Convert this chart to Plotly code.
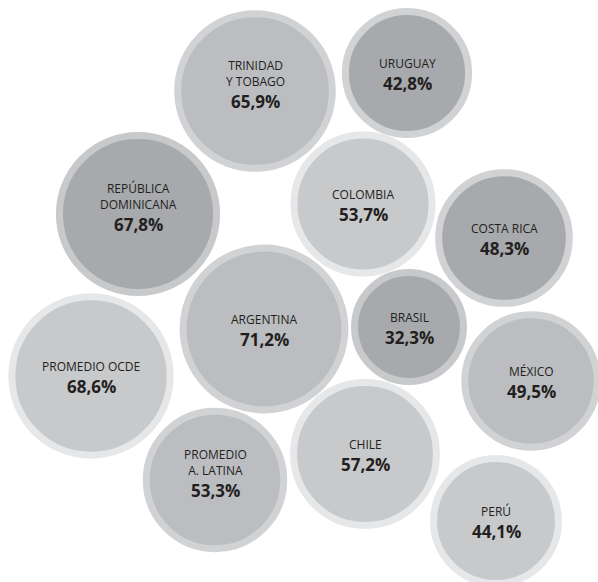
import plotly.graph_objects as go

# Share values (%) per country / average
names = ["TRINIDAD<br>Y TOBAGO", "URUGUAY", "REPÚBLICA<br>DOMINICANA", "COLOMBIA",
         "COSTA RICA", "ARGENTINA", "BRASIL", "PROMEDIO OCDE", "MÉXICO",
         "CHILE", "PROMEDIO<br>A. LATINA", "PERÚ"]
values = [65.9, 42.8, 67.8, 53.7, 48.3, 71.2, 32.3, 68.6, 49.5, 57.2, 53.3, 44.1]
value_labels = ["65,9%", "42,8%", "67,8%", "53,7%", "48,3%", "71,2%", "32,3%",
                "68,6%", "49,5%", "57,2%", "53,3%", "44,1%"]

# Packed-bubble layout (pixel-like coordinates on a 598x582 canvas)
bubble_x = [255, 407, 138, 363, 504, 264, 409, 91, 531, 365, 215, 496]
bubble_y = [91, 73, 214, 204, 238, 329, 327, 376, 381, 454, 480, 521]

# Fill / ring shades per bubble
fills = ["#bcbdc0", "#a7a9ac", "#a7a9ac", "#c8c9cb", "#a7a9ac", "#bcbdc0",
         "#a7a9ac", "#c8c9cb", "#bcbdc0", "#c8c9cb", "#bcbdc0", "#c8c9cb"]
rings = ["#d1d2d4", "#d1d2d4", "#c8c9cb", "#e6e7e8", "#d1d2d4", "#d1d2d4",
         "#c8c9cb", "#e6e7e8", "#d1d2d4", "#e6e7e8", "#d1d2d4", "#e6e7e8"]

RING = 7


def outer_radius(v):
    # linear radius scale for the bubbles
    return 36.0 + 0.68 * v


sizes = [2 * outer_radius(v) - RING for v in values]

fig = go.Figure()
fig.add_trace(go.Scatter(
    x=bubble_x, y=bubble_y, mode="markers",
    marker=dict(size=sizes, sizemode="diameter", color=fills,
                line=dict(color=rings, width=RING), opacity=1),
    hoverinfo="skip", showlegend=False,
))

font_family = "Open Sans, Noto Sans, sans-serif"
for nm, lbl, x, y in zip(names, value_labels, bubble_x, bubble_y):
    fig.add_annotation(x=x, y=y + 1, text=nm, showarrow=False,
                       xanchor="center", yanchor="bottom",
                       font=dict(family=font_family, size=12, color="#231f20"))
    fig.add_annotation(x=x, y=y + 10, text="<b>" + lbl + "</b>", showarrow=False,
                       xanchor="center", yanchor="middle",
                       font=dict(family=font_family, size=17, color="#231f20"))

fig.update_xaxes(range=[0, 598], visible=False, fixedrange=True)
fig.update_yaxes(range=[582, 0], visible=False, fixedrange=True)
fig.update_layout(width=598, height=582, margin=dict(l=0, r=0, t=0, b=0),
                  paper_bgcolor="white", plot_bgcolor="white")

fig.write_html("out.html")
